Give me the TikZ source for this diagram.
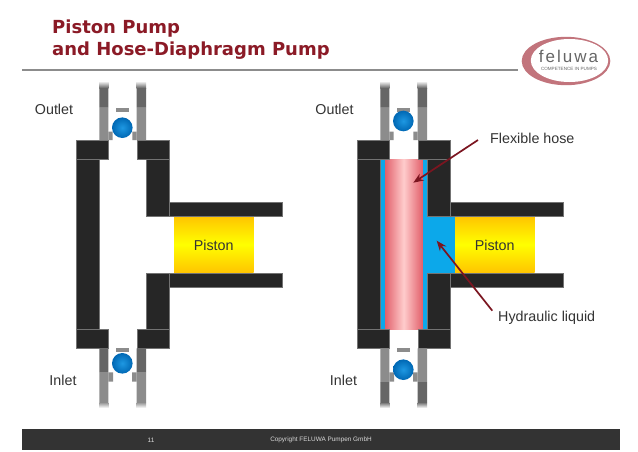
\documentclass[tikz,border=0pt]{standalone}
\usepackage{fontspec}
\setmainfont{Liberation Sans}
\newfontfamily\titlefont{DejaVu Sans}
\newfontfamily\logofont[LetterSpace=12]{Liberation Sans}
\usetikzlibrary{arrows.meta, positioning, calc}
\definecolor{cdark}{HTML}{262626}
\definecolor{cfoot}{HTML}{333333}
\definecolor{cgrey}{HTML}{8C8C8C}
\definecolor{cgreydark}{HTML}{666666}
\definecolor{cblue}{HTML}{0CA8EA}
\definecolor{cballin}{HTML}{1E98E2}
\definecolor{cballout}{HTML}{0068B4}
\definecolor{cred}{HTML}{7B1520}
\definecolor{ctitle}{HTML}{8B1A26}
\definecolor{chose}{HTML}{E2616C}
\definecolor{clogo}{HTML}{C2747C}
\definecolor{corange}{HTML}{FFC400}
\tikzset{
  every picture/.style={x=1pt, y=-1pt},
  label/.style={font=\fontsize{14.3}{16}\selectfont, text=black!80, inner sep=0pt},
  title/.style={font=\titlefont\bfseries\fontsize{18}{22}\selectfont, text=ctitle, align=left, inner sep=0pt},
  foot/.style={font=\fontsize{6.4}{7}\selectfont, text=white!85!black, inner sep=0pt},
  body/.style={fill=cdark, draw=black!55, line width=0.3pt},
  valve/.style={fill=cgrey},
  valvedark/.style={fill=cgreydark},
  ball/.style={inner color=cballin, outer color=cballout},
  piston/.style={top color=corange, bottom color=corange, middle color=yellow},
  arrow/.style={-{Stealth[length=3.6mm, width=2.8mm]}, draw=cred, line width=1.7pt},
}

\begin{document}
\begin{tikzpicture}
  \useasboundingbox (0,0) rectangle (638,451);
  \fill[white] (0,0) rectangle (638,451);

  % title and logo
  \node[title, anchor=north west] (head) at (52,20) {Piston Pump\\and Hose-Diaphragm Pump};
  \draw[cgrey, line width=1.2pt] (22,70) -- (518,70);
  \fill[clogo] (566,61) ellipse (44.3 and 24.2);
  \fill[white] (569.5,60.5) ellipse (38.7 and 21.5);
  \node[font=\logofont\fontsize{17}{17}\selectfont, text=black!60, inner sep=0pt] (brand) at (568.5,56) {feluwa};
  \node[font=\fontsize{4.6}{5}\selectfont, text=black!60, inner sep=0pt] (claim) at (569,69) {COMPETENCE IN PUMPS};

  % hydraulic part of the second pump, below the walls
  \fill[cblue] (380,159) rectangle (427,329.3);
  \fill[cblue] (427,216) rectangle (456,272.7);
  \shade[left color=chose, right color=chose, middle color=red!20!white] (385,159) rectangle (422.3,329.3);

  % both pump bodies
  \foreach \dx/\name in {0/Piston, 281/Piston} {
    \begin{scope}[xshift=\dx]
      \shade[piston] (174,216) rectangle (253.7,272.7);
      \node[label] (piston\dx) at (213.7,245) {\name};
      \draw[body] (75.7,140) rectangle (108.3,159);
      \draw[body] (136.7,140) rectangle (169.3,159);
      \draw[body] (75.7,159) rectangle (99,329.3);
      \draw[body] (146,159) rectangle (169.3,216);
      \draw[body] (146,272.7) rectangle (169.3,329.3);
      \draw[body] (169.3,201.7) rectangle (281.7,216);
      \draw[body] (169.3,272.7) rectangle (281.7,286.7);
      \draw[body] (75.7,329.3) rectangle (108.3,348.3);
      \draw[body] (136.7,329.3) rectangle (169.3,348.3);
      % top valve
      \fill[valve] (99.3,107) rectangle (108.3,140) (136.7,107) rectangle (146,140);
      \fill[valve] (108.3,131.7) rectangle (112.7,140) (132.3,131.7) rectangle (136.7,140);
      \fill[valvedark] (99.3,88) rectangle (108.3,107) (136.7,88) rectangle (146,107);
      \shade[top color=white, bottom color=cgreydark] (99.3,81) rectangle (108.3,88);
      \shade[top color=white, bottom color=cgreydark] (136.7,81) rectangle (146,88);
      \fill[cgrey] (115.5,107.7) rectangle (129,111.7);
      % bottom valve, the small bar only
      \fill[cgrey] (115.5,348.3) rectangle (129,352.3);
    \end{scope}
  }

  % balls and lower valve bars differ between the two pumps
  \shade[ball] (122.3,127.7) circle (10.3);
  \shade[ball] (403.3,121) circle (10.3);
  \fill[valvedark] (99.3,348.3) rectangle (108.3,372) (136.7,348.3) rectangle (146,372);
  \fill[valve] (99.3,372) rectangle (108.3,402) (136.7,372) rectangle (146,402);
  \fill[valve] (108.3,372.3) rectangle (113,381.7) (132,372.3) rectangle (136.7,381.7);
  \shade[top color=cgrey, bottom color=white] (99.3,402) rectangle (108.3,408);
  \shade[top color=cgrey, bottom color=white] (136.7,402) rectangle (146,408);
  \shade[ball] (122.3,363.3) circle (10.3);
  \fill[valve] (380.3,348.3) rectangle (389.3,382) (417.7,348.3) rectangle (427,382);
  \fill[valve] (389.3,372.3) rectangle (394,381.7) (413,372.3) rectangle (417.7,381.7);
  \fill[valvedark] (380.3,382) rectangle (389.3,402) (417.7,382) rectangle (427,402);
  \shade[top color=cgreydark, bottom color=white] (380.3,402) rectangle (389.3,408);
  \shade[top color=cgreydark, bottom color=white] (417.7,402) rectangle (427,408);
  \shade[ball] (403.3,369.7) circle (10.3);

  % labels
  \node[label] (outleta) at (54,109) {Outlet};
  \node[label] (outletb) at (334.5,109) {Outlet};
  \node[label] (inleta) at (63,380) {Inlet};
  \node[label] (inletb) at (343.5,380) {Inlet};
  \node[label, anchor=west] (hose) at (490,138) {Flexible hose};
  \node[label, anchor=west] (liquid) at (498,318) {Hydraulic liquid};

  \coordinate (hosetip) at (413.3,182.7);
  \coordinate (hosefrom) at (478,140);
  \coordinate (liquidtip) at (436.7,240.7);
  \coordinate (liquidfrom) at (492.3,310.7);
  \draw[arrow] (hosefrom) -- (hosetip);
  \draw[arrow] (liquidfrom) -- (liquidtip);

  % footer
  \fill[cfoot] (22,429) rectangle (620,450);
  \node[foot] (page) at (151,440) {11};
  \node[foot] (copy) at (321,440) {Copyright FELUWA Pumpen GmbH};
\end{tikzpicture}
\end{document}
